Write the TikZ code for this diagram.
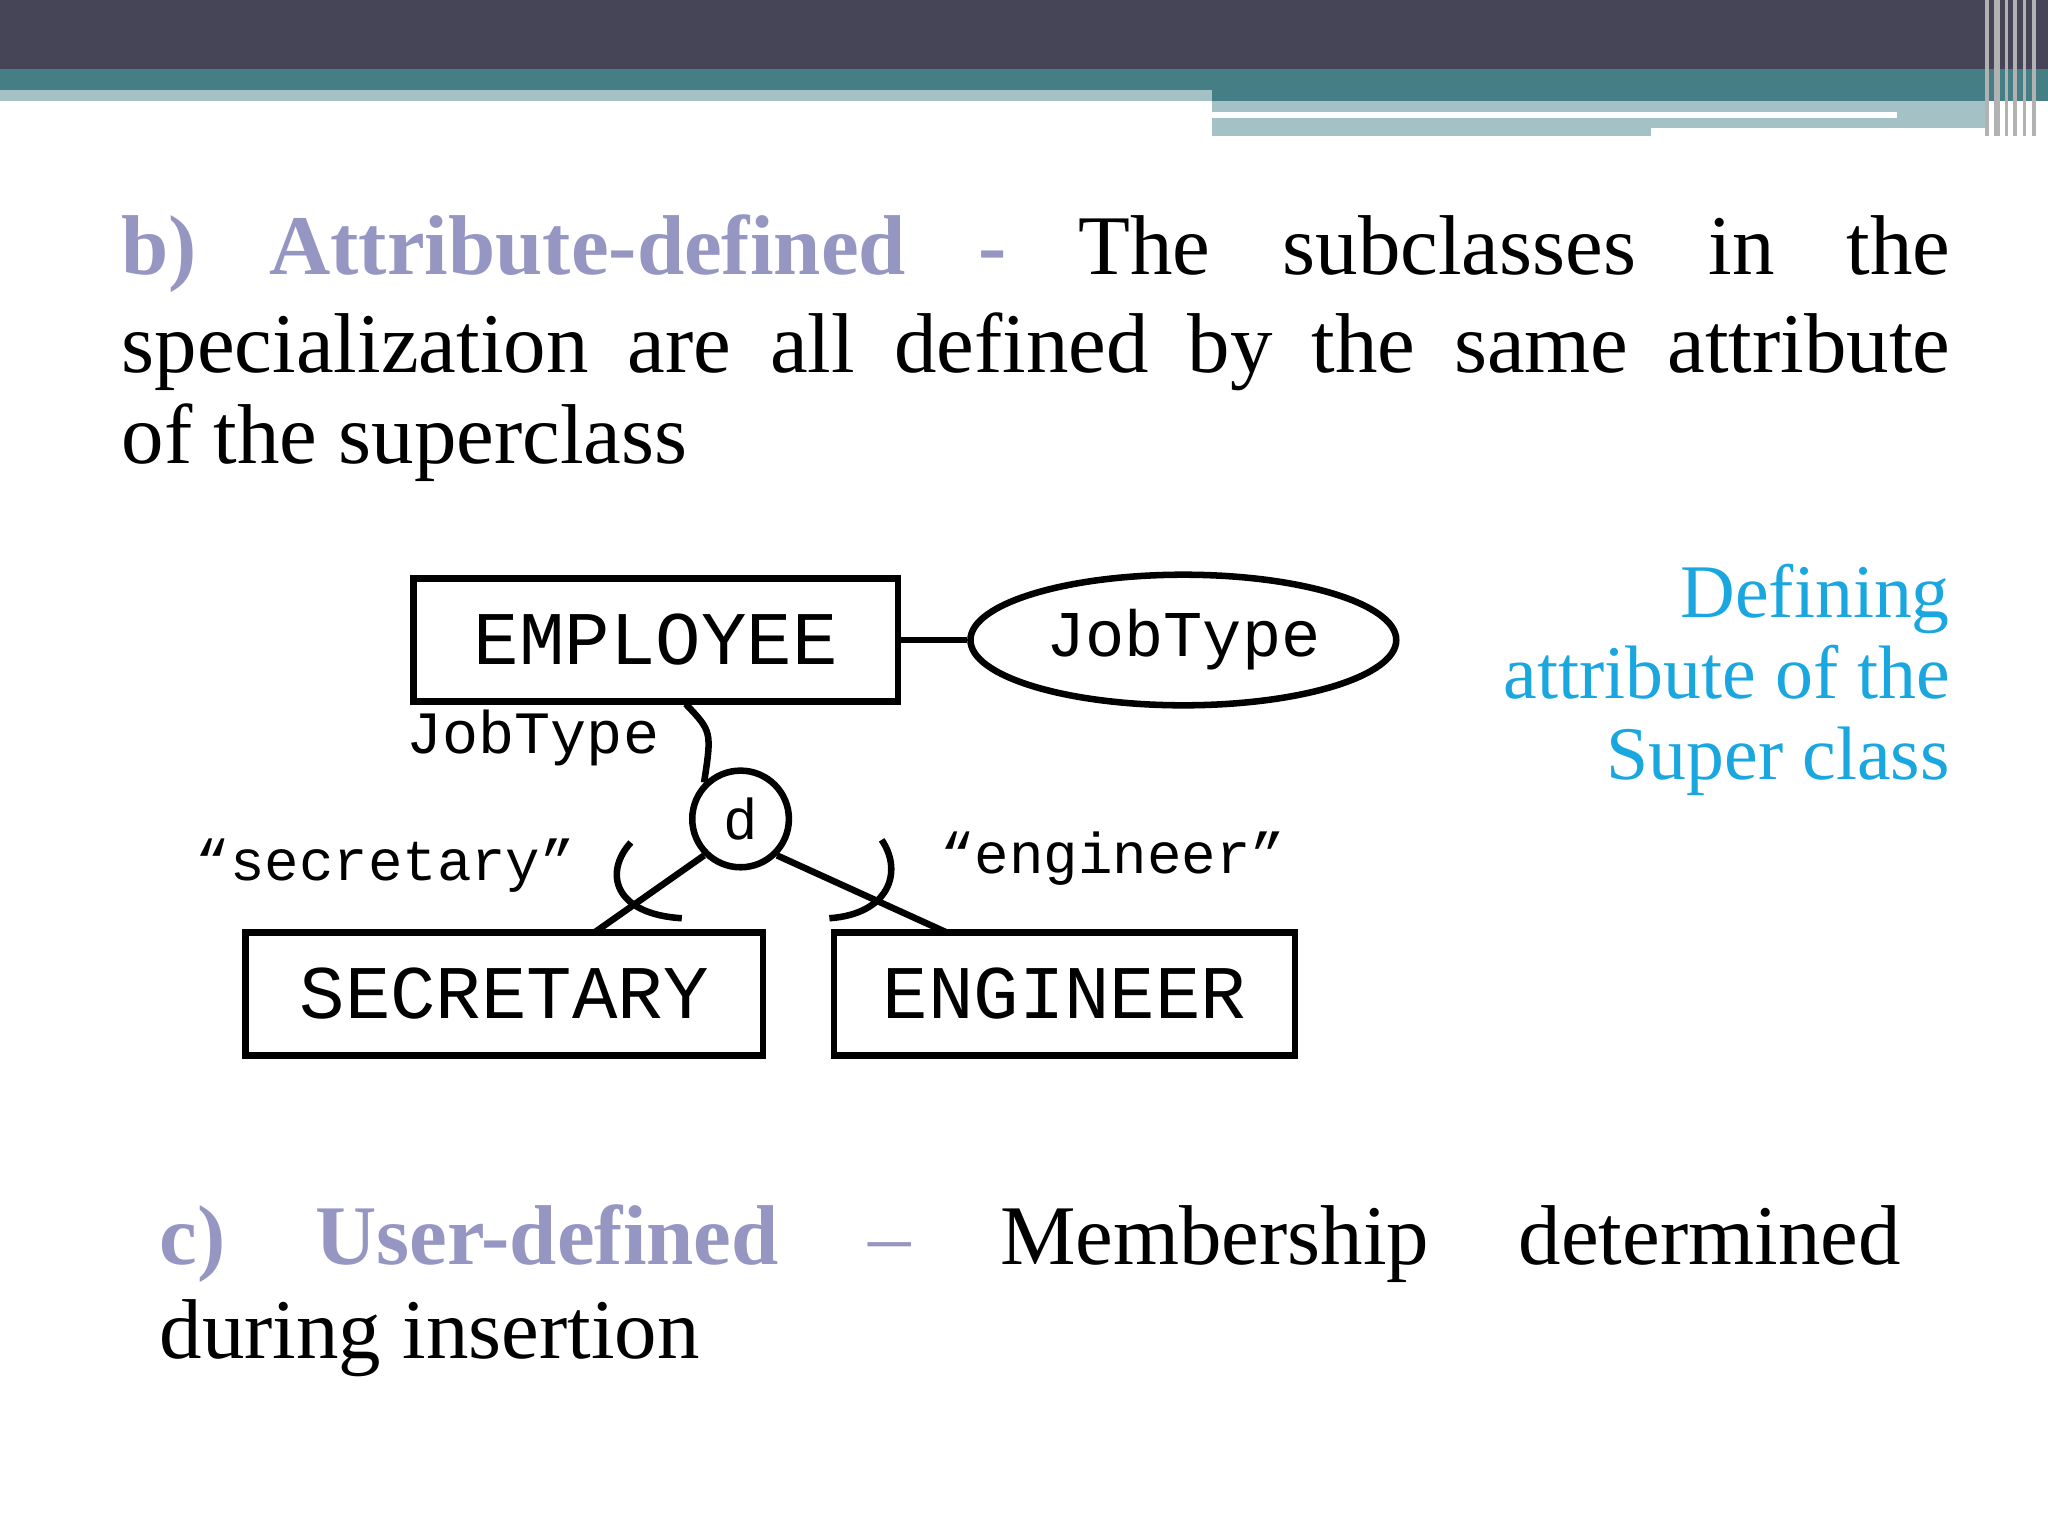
\documentclass[tikz,border=0pt]{standalone}
\usepackage{fontspec}
\usetikzlibrary{shapes.geometric}
\setmainfont{Liberation Serif}
\newfontfamily\diag{Liberation Mono}
\definecolor{dark}{RGB}{70,69,88}
\definecolor{teal}{RGB}{70,126,133}
\definecolor{lteal}{RGB}{164,194,198}
\definecolor{head}{RGB}{150,150,195}
\definecolor{sky}{RGB}{26,167,224}
\begin{document}
\begin{tikzpicture}[x=1pt,y=-1pt,
  box/.style={draw,line width=5pt,minimum width=#1,minimum height=94pt,inner sep=0pt,font=\diag\fontsize{58}{60}\selectfont},
  lab/.style={font=\diag\fontsize{44}{46}\selectfont,inner sep=0pt},
  body/.style={anchor=base west,inner sep=0pt,font=\fontsize{65}{72}\selectfont},
  ln/.style={line width=5pt}]
\useasboundingbox (0,0) rectangle (1568,1176);
\fill[white] (0,0) rectangle (1568,1176);
% header bands
\fill[dark] (0,0) rectangle (1568,53);
\fill[teal] (0,53) rectangle (1568,69);
\fill[teal] (928,69) rectangle (1568,77);
\fill[lteal] (0,69) rectangle (928,77);
\fill[lteal] (928,77) rectangle (1520,98);
\fill[lteal] (928,98) rectangle (1264,104);
\fill[white] (928,86) rectangle (1452,90);
\foreach \x/\w in {1520/3,1527/4,1535/2,1541/3,1549/2,1556/3}{\fill[gray!60] (\x,0) rectangle (\x+\w,104);}
% body text
\node[body] (l1) at (93,210) {\makebox[1400pt][s]{\textcolor{head}{\textbf{b) Attribute-defined -}} The subclasses in the}};
\node[body] (l2) at (93,285) {\makebox[1400pt][s]{specialization are all defined by the same attribute}};
\node[body] (l3) at (93,355) {of the superclass};
\node[body] (c1) at (122,968) {\makebox[1333pt][s]{\textcolor{head}{\textbf{c) User-defined}} \textcolor{head}{--} Membership determined}};
\node[body] (c2) at (122,1040) {during insertion};
\node[anchor=north east,align=right,text=sky,inner sep=0pt,font=\fontsize{58}{62}\selectfont] (note) at (1493,432) {Defining\\attribute of the\\Super class};
% diagram
\node[box=371pt] (emp) at (502,490) {EMPLOYEE};
\node[draw,ellipse,line width=5pt,minimum width=326pt,minimum height=100pt,inner sep=0pt,font=\diag\fontsize{50}{52}\selectfont] (jt) at (906,490) {JobType};
\draw[ln] (emp.east) -- (jt.west);
\node[lab,font=\diag\fontsize{46}{48}\selectfont] (jtl) at (408,565) {JobType};
\node[draw,circle,line width=5pt,minimum size=74pt,inner sep=0pt,font=\diag\fontsize{44}{46}\selectfont] (d) at (567,627) {d};
\draw[ln] (525,539) .. controls (545,560) .. (d.north west);
\node[box=396pt] (sec) at (386,761) {SECRETARY};
\node[box=353pt] (eng) at (815,761) {ENGINEER};
\coordinate (st) at (455,714);
\coordinate (et) at (725,714);
\draw[ln] (d.south west) -- (st);
\draw[ln] (d.south east) -- (et);
\draw[ln] (483,645) .. controls (462,668) and (470,700) .. (522,703);
\draw[ln] (635,703) .. controls (680,700) and (692,668) .. (675,643);
\node[lab] (secl) at (295,663) {“secretary”};
\node[lab] (engl) at (852,657) {“engineer”};
\end{tikzpicture}
\end{document}
